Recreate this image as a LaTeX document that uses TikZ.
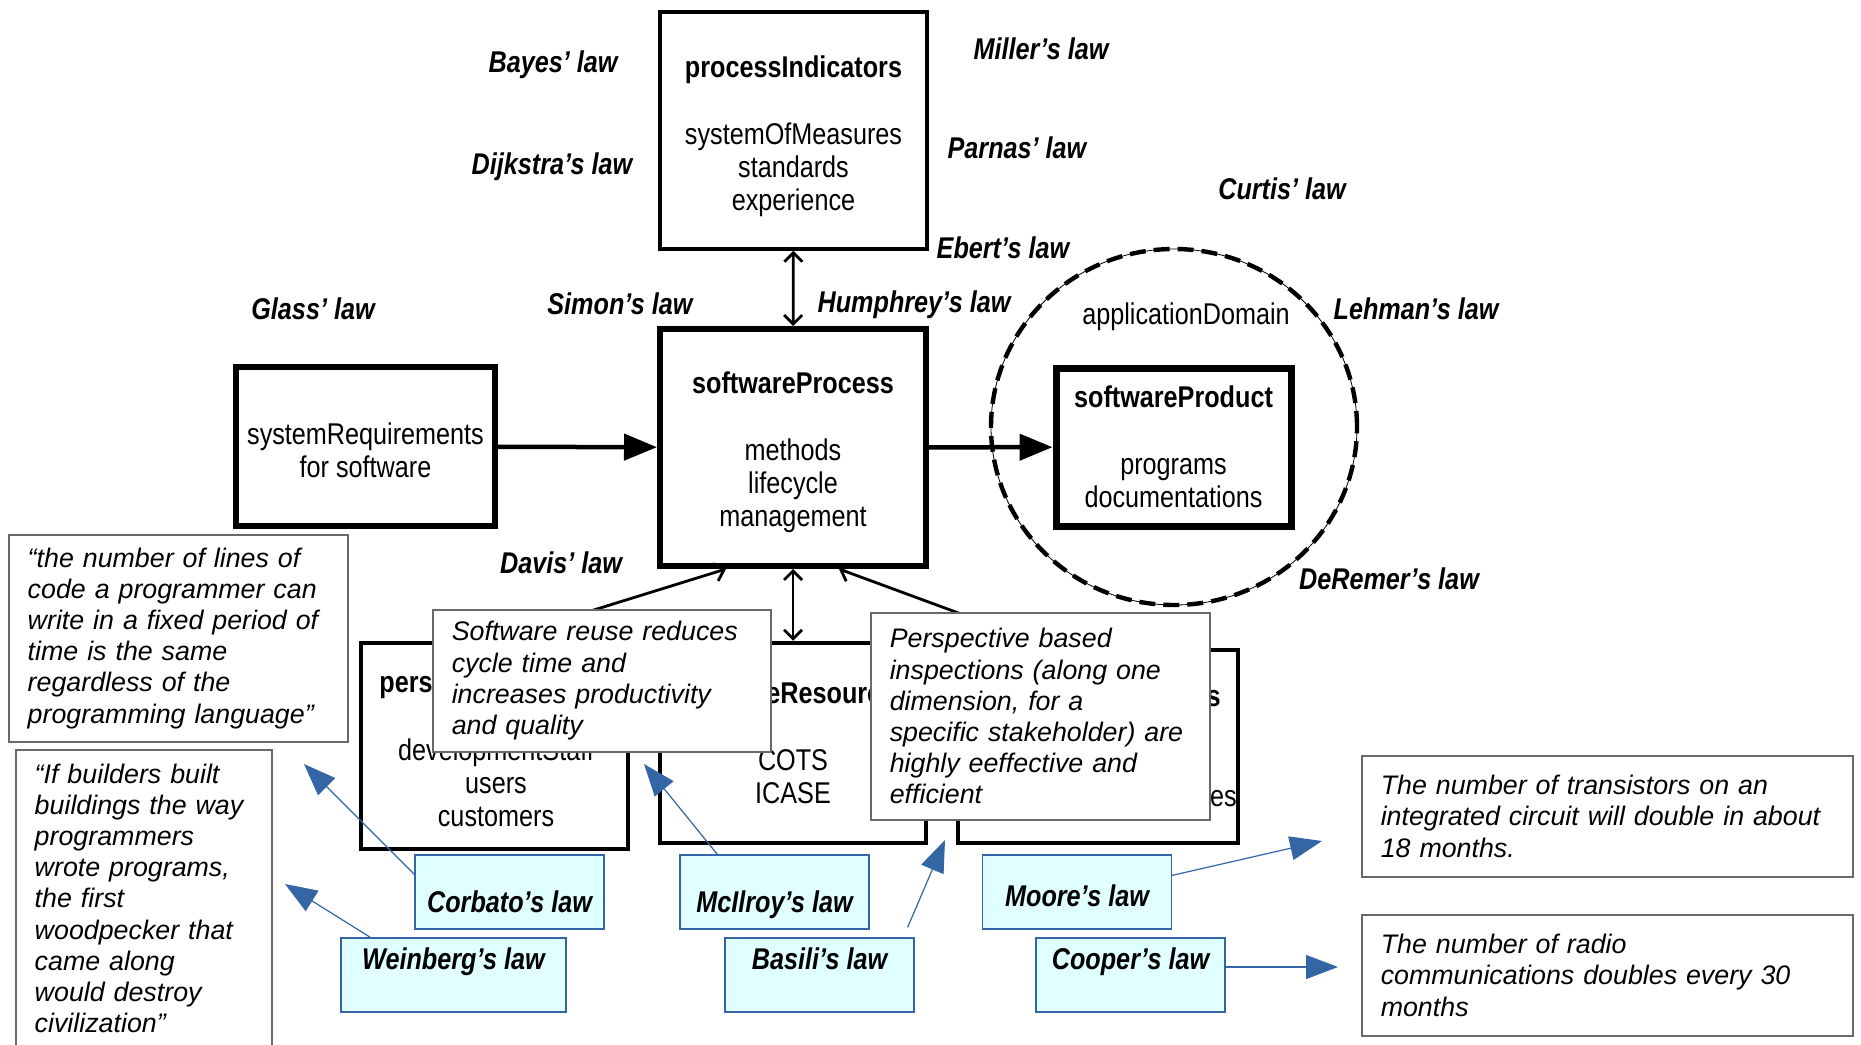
\documentclass[tikz,border=0pt]{standalone}
\usepackage{fontspec}
\setmainfont{Liberation Sans}
\newfontfamily\narrowfont[FakeStretch=0.84]{Liberation Sans}
\usepackage{tikz}
\usetikzlibrary{arrows.meta}
\usetikzlibrary{positioning}
\definecolor{lawblue}{RGB}{52,101,164}
\definecolor{lawcyan}{RGB}{224,255,255}
\definecolor{notegray}{RGB}{105,105,105}

\begin{document}
\begin{tikzpicture}[x=0.5pt, y=-0.5pt,
    >={Straight Barb[length=4.5pt,width=9pt]},
    model/.style={draw, fill=white, line width=3pt, inner sep=0pt, align=center, font=\narrowfont\fontsize{15}{16.5}\selectfont},
    modeltext/.style={inner sep=0pt, align=center, font=\narrowfont\fontsize{15}{16.5}\selectfont},
    law/.style={inner sep=0pt, font=\narrowfont\fontsize{15}{17}\selectfont\bfseries\itshape},
    lawbox/.style={law, draw=lawblue, line width=0.6pt, fill=lawcyan, minimum height=37pt},
    note/.style={draw=notegray, line width=0.75pt, fill=white, anchor=north west, align=left,
      inner xsep=9.5pt, inner ysep=5pt, font=\fontsize{13.4}{15.6}\selectfont\itshape},
    flow/.style={line width=2.25pt, -{Triangle[length=16.5pt,width=13pt]}},
    link/.style={line width=1.4pt},
    pointer/.style={draw=lawblue, line width=0.6pt, -{Triangle[length=16pt,width=12pt]}, lawblue}]

  \useasboundingbox (0,0) rectangle (1861,1044);

  % application domain round the product
  \draw [line width=0.4pt] (1174,427) ellipse [x radius=91.5pt, y radius=89pt];
  \draw [line width=2.2pt, dash pattern=on 8pt off 4pt] (1174,427) ellipse [x radius=91.5pt, y radius=89pt];
  \node [modeltext] (domain) at (1186,317) {applicationDomain};

  \node [model, line width=1.75pt, minimum width=133.5pt, minimum height=118.5pt] (indicators) at (793.5,130.5)
    {\rule{0pt}{17pt}\textbf{processIndicators}\\[17pt] systemOfMeasures\\ standards\\ experience};
  \node [model, minimum width=133pt, minimum height=118.5pt] (process) at (793,447.5)
    {\rule{0pt}{16pt}\textbf{softwareProcess}\\[17pt] methods\\ lifecycle\\ management};
  \node [model, minimum width=129.5pt, minimum height=79.5pt] (requirements) at (365.5,446.5)
    {\rule{0pt}{15pt}systemRequirements\\ for software};
  \node [model, line width=3.5pt, minimum width=117.5pt, minimum height=79pt] (product) at (1173.5,447)
    {\textbf{softwareProduct}\\[17pt] programs\\ documentations};

  % bottom row, mostly hidden by the quotes
  \node [model, line width=2.25pt, minimum width=133.5pt, minimum height=103pt] (personnel) at (494.5,746) {};
  \node [modeltext, anchor=west] at (379,685) {\textbf{personnel}};
  \node [modeltext] at (496,783) {developmentStaff\\ users\\ customers};
  \node [model, line width=2.25pt, minimum width=133pt, minimum height=100pt] (resources) at (793,743)
    {\textbf{softwareResources}\\[17pt] COTS\\ ICASE};
  \node [model, line width=2.25pt, minimum width=140pt, minimum height=96.5pt] (third) at (1098,746.5) {};
  \node [modeltext, anchor=east] at (1221,699) {\textbf{s}};
  \node [modeltext, anchor=east] at (1237,799) {res};

  \draw [flow] (requirements) -- (process);
  \draw [flow] (process) -- (product);
  \draw [link, <->] (indicators) -- (process);
  \draw [link, <->] (process) -- (resources);
  \draw [link, ->] (personnel.north) -- ([xshift=-33.5pt]process.south);
  \draw [link, ->] ([xshift=48.5pt]third.north west) -- ([xshift=23pt]process.south);

  \node [law] (bayes) at (553,65) {Bayes’ law};
  \node [law] (dijkstra) at (552,167) {Dijkstra’s law};
  \node [law] (miller) at (1041,49) {Miller’s law};
  \node [law] (parnas) at (1017,148) {Parnas’ law};
  \node [law] (curtis) at (1282,189) {Curtis’ law};
  \node [law] (ebert) at (1003,248) {Ebert’s law};
  \node [law] (glass) at (313,309) {Glass’ law};
  \node [law] (simon) at (620,304) {Simon’s law};
  \node [law] (humphrey) at (914,305) {Humphrey’s law};
  \node [law] (lehman) at (1416,309) {Lehman’s law};
  \node [law] (davis) at (561,563) {Davis’ law};
  \node [law] (deremer) at (1389,579) {DeRemer’s law};

  % quotes
  \node [note, text width=150.5pt, minimum height=103.5pt] (locnote) at (8,534)
    {“the number of lines of\\ code a programmer can\\ write in a fixed period of\\ time is the same\\ regardless of the\\ programming language”};
  \node [note, text width=109pt, inner ysep=7pt] (woodnote) at (15,749)
    {“If builders built\\ buildings the way\\ programmers\\ wrote programs,\\ the first\\ woodpecker that\\ came along\\ would destroy\\ civilization”};
  \node [note, text width=150pt, minimum height=71pt] (reusenote) at (432,609)
    {Software reuse reduces\\ cycle time and\\ increases productivity\\ and quality};
  \node [note, text width=150.5pt, minimum height=103.5pt] (inspectnote) at (870,612)
    {Perspective based\\ inspections (along one\\ dimension, for a\\ specific stakeholder) are\\ highly eeffective and\\ efficient};
  \node [note, text width=226.5pt, minimum height=60.5pt] (moorenote) at (1361,755)
    {The number of transistors on an\\ integrated circuit will double in about\\ 18 months.};
  \node [note, text width=226.5pt, minimum height=60.5pt] (coopernote) at (1361,914)
    {The number of radio\\ communications doubles every 30\\ months};

  % laws that point at the quotes
  \node [lawbox, minimum width=94.5pt, text height=20.5pt, text depth=0pt] (corbato) at (509.5,892) {Corbato’s law};
  \node [lawbox, minimum width=94.5pt, text height=20.5pt, text depth=0pt] (mcilroy) at (774.5,892) {McIlroy’s law};
  \node [lawbox, minimum width=94.5pt, text height=14pt, text depth=0pt] (moore) at (1077,892) {Moore’s law};
  \node [lawbox, minimum width=112.5pt, text height=0pt, text depth=6pt] (weinberg) at (453.5,975) {Weinberg’s law};
  \node [lawbox, minimum width=94.5pt, text height=0pt, text depth=6pt] (basili) at (819.5,975) {Basili’s law};
  \node [lawbox, minimum width=94.5pt, text height=0pt, text depth=6pt] (cooper) at (1130.5,975) {Cooper’s law};

  \coordinate (corbatotip) at (304,764);
  \coordinate (weinbergtip) at (285,884);
  \coordinate (mcilroytip) at (644,764);
  \coordinate (basilitip) at (945,840);
  \coordinate (mooretip) at (1322,841);
  \coordinate (coopertip) at (1338,967);

  \draw [pointer] ([yshift=-10pt]corbato.north west) -- (corbatotip);
  \draw [pointer] ([xshift=15pt]weinberg.north west) -- (weinbergtip);
  \draw [pointer] ([xshift=19pt]mcilroy.north west) -- (mcilroytip);
  \draw [pointer] ([xshift=-3.5pt,yshift=5pt]basili.north east) -- (basilitip);
  \draw [pointer] ([yshift=-10.5pt]moore.north east) -- (mooretip);
  \draw [pointer] ([yshift=4pt]cooper.east) -- (coopertip);

\end{tikzpicture}
\end{document}
